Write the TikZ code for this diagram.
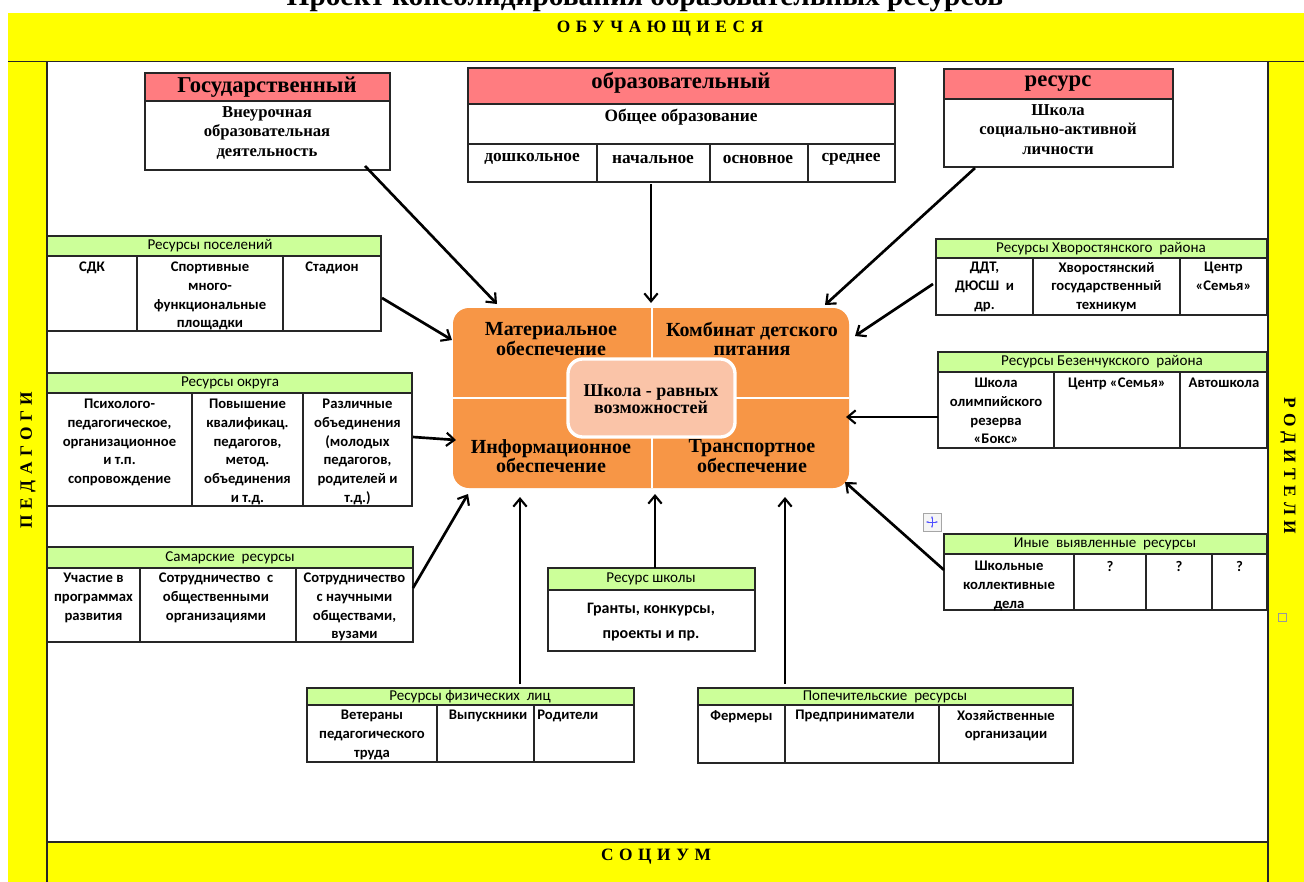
\documentclass[tikz,border=0pt]{standalone}
\usepackage{fontspec}
\setmainfont{Liberation Serif}
\newfontfamily\sansf{Carlito}
\newfontfamily\spacedf{Liberation Serif}[LetterSpace=32]
\usetikzlibrary{arrows.meta}
\definecolor{ylw}{HTML}{FFFF00}
\definecolor{pinkh}{HTML}{FF7C80}
\definecolor{greenh}{HTML}{CCFF99}
\definecolor{orng}{HTML}{F79646}
\definecolor{peach}{HTML}{FAC4A8}
\definecolor{frm}{HTML}{262626}
\tikzset{
  bx/.style={draw=frm, line width=1.2pt},
  st/.style={font=\sansf\bfseries\fontsize{11}{14}\selectfont, align=center, anchor=north, inner sep=0pt},
  sth/.style={font=\sansf\fontsize{11.3}{12}\selectfont, inner sep=0pt},
  serb/.style={font=\bfseries\fontsize{12.5}{14.8}\selectfont, align=center, anchor=north, inner sep=0pt},
  serh/.style={font=\bfseries\fontsize{17}{20}\selectfont, inner sep=0pt},
  sercell/.style={font=\bfseries\fontsize{13}{15}\selectfont, inner sep=0pt},
  qd/.style={font=\bfseries\fontsize{15}{14.5}\selectfont, align=center, inner sep=0pt},
  band/.style={font=\spacedf\bfseries\fontsize{13}{14}\selectfont, inner sep=0pt},
  arr/.style={-{Straight Barb[length=6pt,width=10pt,line width=1.6pt]}, line width=2pt, black},
}
\begin{document}
\begin{tikzpicture}[x=0.75pt,y=-0.75pt]
\useasboundingbox (0,0) rectangle (1304,882);
\fill[white] (0,0) rectangle (1304,882);
% title (cut off at top, as in the reference)
\node[font=\bfseries\fontsize{22}{24}\selectfont, anchor=base, inner sep=0pt] (title) at (645,5) {Проект консолидирования образовательных ресурсов};
% yellow frame
\fill[ylw] (8,13) rectangle (1304,62);
\fill[ylw] (8,62) rectangle (47,882);
\fill[ylw] (1268,62) rectangle (1304,882);
\fill[ylw] (47,842) rectangle (1268,882);
\draw[frm, line width=1.3pt] (8,61.5) -- (1304,61.5) (47,61.5) -- (47,882) (1268,61.5) -- (1268,882) (47,842) -- (1268,842);
\node[band] (obuch) at (660,29) {ОБУЧАЮЩИЕСЯ};
\node[band] (socium) at (656,857) {СОЦИУМ};
\node[band, rotate=90] (pedag) at (28,460) {ПЕДАГОГИ};
\node[band, rotate=-90] (rodit) at (1288,466) {РОДИТЕЛИ};

% ---- top boxes ----
\fill[pinkh] (145,73) rectangle (390,101);
\draw[bx] (145,73) rectangle (390,170) (145,101) -- (390,101);
\node[serh] (gos) at (267,87) {Государственный};
\node[serb] (gosb) at (267,106) {Внеурочная\\образовательная\\деятельность};

\fill[pinkh] (468,68) rectangle (895,104);
\draw[bx] (468,68) rectangle (895,182) (468,104) -- (895,104) (468,144) -- (895,144)
  (597,144) -- (597,182) (710,144) -- (710,182) (808,144) -- (808,182);
\node[serh] (obr) at (681,83) {образовательный};
\node[sercell] (obsh) at (681,117) {Общее образование};
\node[sercell] (dosh) at (532,159) {дошкольное};
\node[sercell] (nach) at (653,159) {начальное};
\node[sercell] (osn) at (758,159) {основное};
\node[sercell] (sred) at (851,159) {среднее};

\fill[pinkh] (944,69) rectangle (1173,99);
\draw[bx] (944,69) rectangle (1173,167) (944,99) -- (1173,99);
\node[serh] (res) at (1058,84) {ресурс};
\node[serb] (resb) at (1058,104) {Школа\\социально-активной\\личности};

% ---- centre block ----
\fill[orng, rounded corners=12pt] (453,308) rectangle (849,488);
\draw[white, line width=2.2pt] (652,308) -- (652,488) (453,398) -- (849,398);
\node[qd] (mat) at (551,339) {Материальное\\обеспечение};
\node[qd] (komb) at (752,339) {Комбинат детского\\питания};
\node[qd] (inf) at (551,456) {Информационное\\обеспечение};
\node[qd] (tr) at (752,456) {Транспортное\\обеспечение};
\draw[white, line width=2.5pt, fill=peach, rounded corners=11pt] (568,359) rectangle (735,437);
\node[qd, font=\bfseries\fontsize{13.5}{12.5}\selectfont] (shk) at (651,399) {Школа - равных\\возможностей};

% ---- left tables ----
\fill[greenh] (47,236) rectangle (381,256);
\draw[bx] (47,236) rectangle (381,331) (47,256) -- (381,256) (137,256) -- (137,331) (283,256) -- (283,331);
\node[sth] (posh) at (210,246) {Ресурсы поселений};
\node[st] (sdk) at (92,262) {СДК};
\node[st] (sport) at (210,262) {Спортивные\\много-\\функциональные\\площадки};
\node[st] (stad) at (332,262) {Стадион};

\fill[greenh] (47,373) rectangle (412,393);
\draw[bx] (47,373) rectangle (412,506) (47,393) -- (412,393) (192,393) -- (192,506) (303,393) -- (303,506);
\node[sth] (okrh) at (230,383) {Ресурсы округа};
\node[st] (psy) at (119.5,399) {Психолого-\\педагогическое,\\организационное\\и т.п.\\сопровождение};
\node[st] (pov) at (247.5,399) {Повышение\\квалификац.\\педагогов,\\метод.\\объединения\\и т.д.};
\node[st] (razl) at (357.5,399) {Различные\\объединения\\(молодых\\педагогов,\\родителей и\\т.д.)};

\fill[greenh] (47,547) rectangle (413,568);
\draw[bx] (47,547) rectangle (413,642) (47,568) -- (413,568) (140,568) -- (140,642) (296,568) -- (296,642);
\node[sth] (samh) at (230,557.5) {Самарские\ \ ресурсы};
\node[st] (uch) at (93.5,573) {Участие в\\программах\\развития};
\node[st] (sotr1) at (216,573) {Сотрудничество\ \ с\\общественными\\организациями};
\node[st] (sotr2) at (354.5,573) {Сотрудничество\\с научными\\обществами,\\вузами};

% ---- right tables ----
\fill[greenh] (936,239) rectangle (1267,258);
\draw[bx] (936,239) rectangle (1267,315) (936,258) -- (1267,258) (1033,258) -- (1033,315) (1180,258) -- (1180,315);
\node[sth] (hvh) at (1101,248.5) {Ресурсы Хворостянского\ \ района};
\node[st] (ddt) at (984.5,262) {ДДТ,\\ДЮСШ\ \ и\\др.};
\node[st] (hvt) at (1106.5,262) {Хворостянский\\государственный\\техникум};
\node[st] (cs1) at (1223.5,262) {Центр\\«Семья»};

\fill[greenh] (938,352) rectangle (1267,372);
\draw[bx] (938,352) rectangle (1267,448) (938,372) -- (1267,372) (1054,372) -- (1054,448) (1180,372) -- (1180,448);
\node[sth] (bzh) at (1102,362) {Ресурсы Безенчукского\ \ района};
\node[st] (olimp) at (996,378) {Школа\\олимпийского\\резерва\\«Бокс»};
\node[st] (cs2) at (1117,378) {Центр «Семья»};
\node[st] (avto) at (1224,378) {Автошкола};

\fill[greenh] (944,534) rectangle (1267,554);
\draw[bx] (944,534) rectangle (1267,610) (944,554) -- (1267,554) (1074,554) -- (1074,610) (1146,554) -- (1146,610) (1212,554) -- (1212,610);
\node[sth] (inyh) at (1105,544) {Иные\ \ выявленные\ \ ресурсы};
\node[st] (shkd) at (1009,561) {Школьные\\коллективные\\дела};
\node[st] (q1) at (1110,561) {?};
\node[st] (q2) at (1179,561) {?};
\node[st] (q3) at (1239.5,561) {?};
% table handle and small marker
\draw[gray!70, fill=gray!8] (923,513) rectangle (941,531);
\draw[blue!70, line width=0.5pt, {Stealth[length=2pt]}-{Stealth[length=2pt]}] (926,522) -- (938,522);
\draw[blue!70, line width=0.5pt, {Stealth[length=2pt]}-{Stealth[length=2pt]}] (932,516) -- (932,528);
\draw[gray!80, line width=0.6pt] (1278,613) rectangle (1286,621);

% ---- bottom tables ----
\fill[greenh] (548,568) rectangle (755,590);
\draw[bx] (548,568) rectangle (755,651) (548,590) -- (755,590);
\node[sth] (shkh) at (651,579) {Ресурс школы};
\node[st, font=\sansf\bfseries\fontsize{12}{18.75}\selectfont] (grant) at (651,603) {Гранты, конкурсы,\\проекты и пр.};

\fill[greenh] (307,688) rectangle (634,705);
\draw[bx] (307,688) rectangle (634,762) (307,705) -- (634,705) (437,705) -- (437,762) (534,705) -- (534,762);
\node[sth] (fizh) at (470,696.5) {Ресурсы физических\ \ лиц};
\node[st] (vet) at (372,710) {Ветераны\\педагогического\\труда};
\node[st] (vyp) at (488,710) {Выпускники};
\node[st, anchor=north west] (rod) at (537,710) {Родители};

\fill[greenh] (698,688) rectangle (1073,705);
\draw[bx] (698,688) rectangle (1073,763) (698,705) -- (1073,705) (785,705) -- (785,763) (939,705) -- (939,763);
\node[sth] (poph) at (885,696.5) {Попечительские\ \ ресурсы};
\node[st] (ferm) at (741.5,710) {Фермеры};
\node[st] (pred) at (855,710) {Предприниматели};
\node[st] (hoz) at (1006,710) {Хозяйственные\\организации};

% ---- connector coordinates ----
\coordinate (s1) at (365,166); \coordinate (e1) at (497,304);
\coordinate (s2) at (651,184); \coordinate (e2) at (651,303);
\coordinate (s3) at (975,168); \coordinate (e3) at (825,305);
\coordinate (s4) at (382,298); \coordinate (e4) at (452,340);
\coordinate (s5) at (413,437); \coordinate (e5) at (456,440);
\coordinate (s6) at (413,588); \coordinate (e6) at (468,494);
\coordinate (s7) at (520,684); \coordinate (e7) at (520,497);
\coordinate (s8) at (655,568); \coordinate (e8) at (655,494);
\coordinate (s9) at (785,684); \coordinate (e9) at (785,497);
\coordinate (s10) at (944,570); \coordinate (e10) at (845,482);
\coordinate (s11) at (938,417); \coordinate (e11) at (846,417);
\coordinate (s12) at (933,284); \coordinate (e12) at (855,336);
\foreach \i in {1,...,12} { \draw[arr] (s\i) -- (e\i); }
\end{tikzpicture}
\end{document}
